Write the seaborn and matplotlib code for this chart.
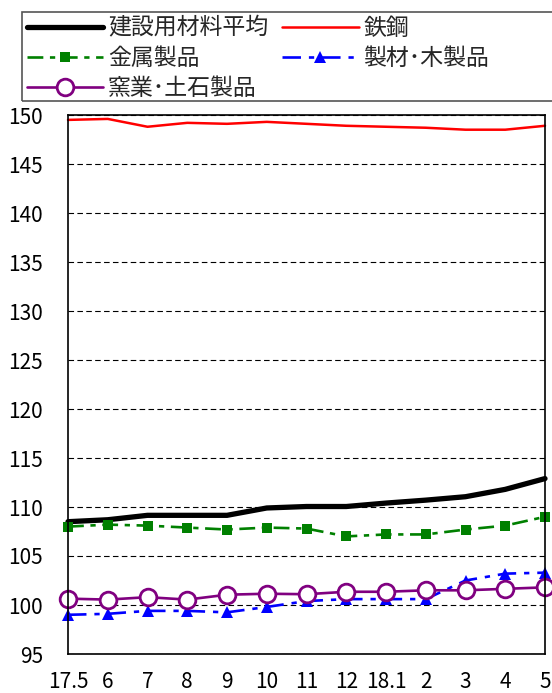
import matplotlib
matplotlib.use("Agg")
import matplotlib.pyplot as plt
from matplotlib.patches import Rectangle
import seaborn as sns
import numpy as np

sns.set_style("white")
plt.rcParams['font.family'] = ['Noto Sans CJK JP', 'DejaVu Sans']

months = ["17.5", "6", "7", "8", "9", "10", "11", "12", "18.1", "2", "3", "4", "5"]
avg = [108.5, 108.7, 109.15, 109.15, 109.15, 109.9, 110.05, 110.05, 110.4, 110.7, 111.05, 111.8, 112.9]
steel = [149.5, 149.6, 148.8, 149.2, 149.1, 149.3, 149.1, 148.9, 148.8, 148.7, 148.5, 148.5, 148.9]
metal = [108.0, 108.2, 108.1, 107.9, 107.7, 107.9, 107.8, 107.0, 107.2, 107.2, 107.7, 108.1, 109.0]
wood = [99.0, 99.1, 99.4, 99.4, 99.25, 99.8, 100.4, 100.6, 100.6, 100.6, 102.5, 103.2, 103.3]
ceramic = [100.65, 100.55, 100.8, 100.55, 101.05, 101.15, 101.1, 101.35, 101.35, 101.5, 101.5, 101.65, 101.8]
labels = ["建設用材料平均", "鉄鋼", "金属製品", "製材･木製品", "窯業･土石製品"]
yticks = [95, 100, 105, 110, 115, 120, 125, 130, 135, 140, 145, 150]

fig = plt.figure(figsize=(5.52, 6.93), dpi=100)
ax = fig.add_axes([68/552, 1-654/693, (545-68)/552, (654-115)/693])
x = np.arange(len(months))

sns.lineplot(x=x, y=steel, ax=ax, color="#ff0000", lw=1.8, label=labels[1], clip_on=False)
sns.lineplot(x=x, y=avg, ax=ax, color="black", lw=3.8, label=labels[0], clip_on=False)
sns.lineplot(x=x, y=metal, ax=ax, color="#008000", lw=1.9, linestyle=(0, (6, 2.5, 2, 2.5)), marker="s",
             markersize=7.5, markeredgewidth=0, label=labels[2], clip_on=False)
sns.lineplot(x=x, y=wood, ax=ax, color="#0000ff", lw=1.9, linestyle=(0, (7, 3, 2, 3)), marker="^",
             markersize=8.5, markeredgewidth=0, label=labels[3], clip_on=False)
sns.lineplot(x=x, y=ceramic, ax=ax, color="#800080", lw=1.9, marker="o", markersize=12,
             markerfacecolor="white", markeredgecolor="#800080", markeredgewidth=2,
             label=labels[4], clip_on=False)

ax.set_xlim(0, len(months)-1)
ax.set_ylim(95, 150)
ax.set_xticks(x)
ax.set_xticklabels(months)
ax.set_yticks(yticks)
ax.tick_params(axis='x', direction='in', length=5, width=1, pad=12, labelsize=15, colors='black')
ax.tick_params(axis='y', length=0, pad=18, labelsize=15, colors='black')
ax.yaxis.grid(True, color='black', linestyle=(0, (5, 3)), linewidth=0.8)
ax.xaxis.grid(False)
for s in ax.spines.values():
    s.set_visible(True)
    s.set_color('black')
    s.set_linewidth(1.2)
ax.set_xlabel("")
ax.set_ylabel("")

h, l = ax.get_legend_handles_labels()
d = dict(zip(l, h))
order = [labels[0], labels[2], labels[4], labels[1], labels[3]]
ax.get_legend().remove()
leg = fig.legend([d[k] for k in order], order, ncol=2, loc='upper left',
                 bbox_to_anchor=(22/552, 1-12/693),
                 fontsize=16.5, handlelength=3.35, labelspacing=0.32, borderpad=0.2,
                 handletextpad=0.2, columnspacing=0.6, frameon=False,
                 borderaxespad=0)
fig.patches.append(Rectangle((22/552, 1-101/693), 560/552, 89/693, transform=fig.transFigure,
                             facecolor='none', edgecolor='#555555', linewidth=1.2))

fig.savefig("out.png", dpi=100)
